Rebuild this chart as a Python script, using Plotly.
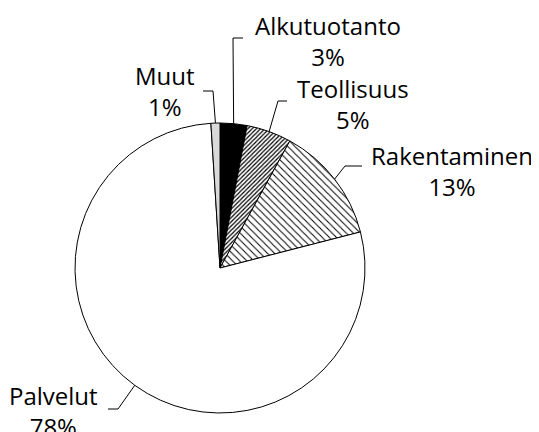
import math

import plotly.graph_objects as go

labels = ['Alkutuotanto', 'Teollisuus', 'Rakentaminen', 'Palvelut', 'Muut']
shares = [3, 5, 13, 78, 1]

W, H = 539, 432
OFF = 8  # page body margin
# pie centre and radius in window pixels
CX, CY, R = 220, 268, 145

fills = ['black', 'white', 'white', 'white', '#d9d9d9']
hatch = ['', '/', '\\', '', '']
hatch_size = [8, 3, 5, 8, 8]
hatch_solid = [0.2, 0.4, 0.2, 0.2, 0.2]

# leader line elbow, leader line end, label centre (window pixels)
elbows = [(233, 38), (278, 101), (345, 166), (118, 409), (213, 91)]
ends = [(243, 38), (287, 101), (362, 166), (108, 409), (203, 91)]
label_pos = [(328, 41), (353, 104), (452, 171), (53, 411), (165, 91)]


def px(x):
    return (x - OFF) / (W - OFF)


def py(y):
    return 1 - (y - OFF) / (H - OFF)


fig = go.Figure(
    data=[
        go.Pie(
            labels=labels,
            values=shares,
            sort=False,
            direction='clockwise',
            rotation=0,
            textinfo='none',
            hoverinfo='label+percent',
            showlegend=False,
            marker=dict(
                colors=fills,
                line=dict(color='black', width=1),
                pattern=dict(
                    shape=hatch,
                    fgcolor='black',
                    bgcolor=fills,
                    size=hatch_size,
                    solidity=hatch_solid,
                ),
            ),
            domain=dict(
                x=[px(CX - R), px(CX + R)],
                y=[py(CY + R), py(CY - R)],
            ),
        )
    ]
)

total = sum(shares)
cum = 0
for i, (name, v) in enumerate(zip(labels, shares)):
    mid = (cum + v / 2) / total * 2 * math.pi
    cum += v
    sx = CX + R * math.sin(mid)
    sy = CY - R * math.cos(mid)
    (ex, ey), (tx, ty) = elbows[i], ends[i]
    fig.add_shape(
        type='path',
        path=f'M {px(sx)} {py(sy)} L {px(ex)} {py(ey)} L {px(tx)} {py(ty)}',
        xref='paper', yref='paper',
        line=dict(color='black', width=1),
    )
    lx, ly = label_pos[i]
    fig.add_annotation(
        x=px(lx), y=py(ly),
        xref='paper', yref='paper',
        xanchor='center', yanchor='middle',
        text=f'{name}<br>{round(v / total * 100)}%',
        showarrow=False,
        align='center',
        font=dict(size=24, color='black'),
    )

fig.update_layout(
    width=W - OFF,
    height=H - OFF,
    margin=dict(l=0, r=0, t=0, b=0),
    paper_bgcolor='white',
    plot_bgcolor='white',
    font=dict(family='Open Sans', color='black'),
)

fig.write_html('out.html')
